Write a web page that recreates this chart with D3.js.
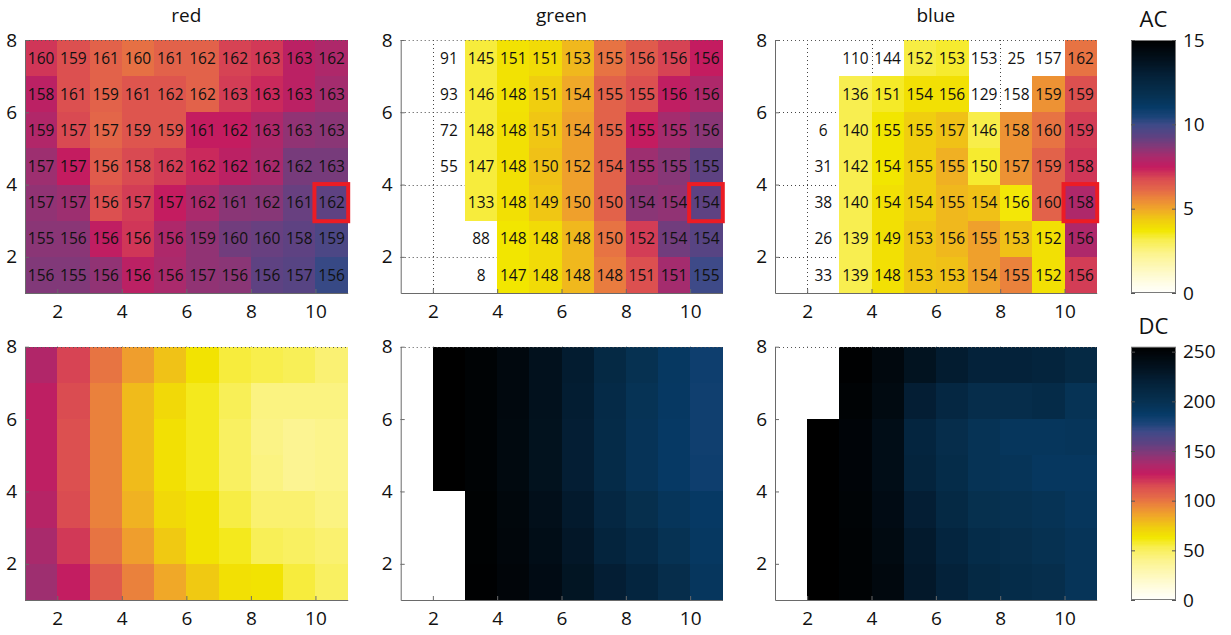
<!DOCTYPE html>
<html>
<head>
<meta charset="utf-8">
<script src="https://cdn.jsdelivr.net/npm/d3@7/dist/d3.min.js"></script>
<style>
  html, body { margin: 0; padding: 0; background: #ffffff; }
  svg { display: block; font-family: "Open Sans", "Noto Sans", sans-serif; }
</style>
</head>
<body>
<svg id="chart" width="1231" height="635"></svg>
<script>
// ---------------- DATA ----------------
const channelNames = ["red", "green", "blue"];
const colLow = [1, 2, 3, 4, 5, 6, 7, 8, 9, 10];        // each column spans [c, c+1]
const rowLow = [7, 6, 5, 4, 3, 2, 1];                   // rows listed top to bottom, span [r, r+1]
const xTicks = [2, 4, 6, 8, 10];
const yTicks = [2, 4, 6, 8];
const acTicks = [0, 5, 10, 15];
const dcTicks = [0, 50, 100, 150, 200, 250];
const acDomain = [0, 15];
const dcDomain = [0, 255];
const highlightCol = 10;
const highlightRow = 3;
const N = null;

// AC values (colour of top row), rows top -> bottom
const acRed = [
  [7.1, 6.7, 6.3, 6.0, 6.3, 6.3, 6.9, 7.05, 7.7, 8.0],
  [7.7, 6.7, 6.3, 6.6, 6.6, 6.3, 7.0, 7.3, 7.7, 8.2],
  [7.95, 6.8, 6.2, 6.6, 6.6, 7.5, 7.5, 8.0, 8.5, 8.6],
  [8.3, 7.5, 6.45, 6.8, 7.0, 7.3, 7.7, 8.1, 8.9, 8.9],
  [8.5, 8.3, 6.7, 7.0, 7.5, 8.1, 8.6, 8.65, 9.15, 9.3],
  [8.6, 8.6, 7.6, 7.1, 8.0, 8.5, 9.0, 9.15, 9.3, 9.7],
  [8.75, 8.75, 8.5, 7.7, 8.1, 8.5, 8.6, 9.3, 9.45, 10.1]
];
const acGreen = [
  [N, N, 3.3, 3.85, 4.0, 4.7, 5.95, 6.45, 6.9, 7.5],
  [N, N, 3.3, 3.85, 4.3, 5.0, 6.3, 6.7, 7.6, 8.0],
  [N, N, 3.3, 3.9, 4.45, 5.15, 6.3, 7.5, 8.2, 8.6],
  [N, N, 3.3, 3.9, 4.55, 5.15, 6.3, 8.3, 8.65, 9.3],
  [N, N, 3.3, 3.9, 4.45, 5.15, 6.3, 8.6, 8.5, 9.3],
  [N, N, N, 3.75, 4.0, 4.7, 5.95, 7.0, 9.0, 9.45],
  [N, N, N, 3.75, 4.0, 4.7, 5.8, 6.7, 8.2, 10.0]
];
const acBlue = [
  [N, N, N, N, 3.25, 3.4, N, N, N, 5.95],
  [N, N, 3.15, 3.45, 3.9, 3.9, N, N, 5.4, 6.7],
  [N, N, 3.15, 3.75, 4.3, 4.55, 3.2, 5.4, 5.95, 7.0],
  [N, N, 3.15, 3.75, 4.3, 4.85, 3.4, 5.4, 6.3, 7.1],
  [N, N, 3.15, 3.9, 4.3, 4.7, 4.55, 3.7, 6.3, 8.0],
  [N, N, 3.15, 3.9, 4.45, 4.7, 5.15, 4.55, 3.9, 8.0],
  [N, N, 3.15, 3.9, 4.45, 4.55, 5.15, 5.7, 3.9, 7.0]
];

// numbers printed in the top-row cells
const labelRed = [
  [160, 159, 161, 160, 161, 162, 162, 163, 163, 162],
  [158, 161, 159, 161, 162, 162, 163, 163, 163, 163],
  [159, 157, 157, 159, 159, 161, 162, 163, 163, 163],
  [157, 157, 156, 158, 162, 162, 162, 162, 162, 163],
  [157, 157, 156, 157, 157, 162, 161, 162, 161, 162],
  [155, 156, 156, 156, 156, 159, 160, 160, 158, 159],
  [156, 155, 156, 156, 156, 157, 156, 156, 157, 156]
];
const labelGreen = [
  [N, 91, 145, 151, 151, 153, 155, 156, 156, 156],
  [N, 93, 146, 148, 151, 154, 155, 155, 156, 156],
  [N, 72, 148, 148, 151, 154, 155, 155, 155, 156],
  [N, 55, 147, 148, 150, 152, 154, 155, 155, 155],
  [N, N, 133, 148, 149, 150, 150, 154, 154, 154],
  [N, N, 88, 148, 148, 148, 150, 152, 154, 154],
  [N, N, 8, 147, 148, 148, 148, 151, 151, 155]
];
const labelBlue = [
  [N, N, 110, 144, 152, 153, 153, 25, 157, 162],
  [N, N, 136, 151, 154, 156, 129, 158, 159, 159],
  [N, 6, 140, 155, 155, 157, 146, 158, 160, 159],
  [N, 31, 142, 154, 155, 155, 150, 157, 159, 158],
  [N, 38, 140, 154, 154, 155, 154, 156, 160, 158],
  [N, 26, 139, 149, 153, 156, 155, 153, 152, 156],
  [N, 33, 139, 148, 153, 153, 154, 155, 152, 156]
];

// DC values (colour of bottom row), rows top -> bottom
const dcRed = [
  [135, 117, 101, 88, 77, 65, 56, 54, 52, 46],
  [130, 115, 97, 79, 69, 60, 52, 43, 43, 43],
  [130, 114, 97, 79, 66, 60, 50, 42, 39, 41],
  [130, 114, 97, 79, 66, 60, 50, 43, 39, 41],
  [133, 115, 97, 82, 69, 65, 55, 47, 47, 43],
  [138, 120, 101, 88, 75, 65, 60, 52, 50, 47],
  [141, 128, 110, 97, 85, 75, 66, 65, 56, 50]
];
const dcGreen = [
  [0, 255, 252, 246, 236, 224, 210, 200, 191, 184],
  [0, 255, 252, 246, 236, 223, 208, 198, 190, 183],
  [0, 255, 252, 245, 235, 222, 207, 197, 189, 183],
  [0, 255, 252, 245, 235, 222, 207, 197, 189, 184],
  [0, 0, 253, 247, 238, 226, 212, 203, 195, 189],
  [0, 0, 253, 248, 240, 229, 216, 208, 199, 191],
  [0, 0, 254, 249, 242, 232, 222, 214, 205, 193]
];
const dcBlue = [
  [0, 0, 254, 246, 234, 224, 218, 218, 216, 210],
  [0, 0, 252, 244, 222, 212, 205, 205, 207, 198],
  [0, 255, 250, 240, 214, 205, 198, 194, 194, 195],
  [0, 255, 250, 240, 216, 206, 198, 196, 192, 192],
  [0, 255, 251, 242, 222, 210, 202, 200, 198, 194],
  [0, 255, 252, 244, 226, 214, 206, 204, 200, 196],
  [0, 255, 252, 246, 228, 218, 210, 206, 204, 196]
];

const acData = [acRed, acGreen, acBlue];
const dcData = [dcRed, dcGreen, dcBlue];
const labelData = [labelRed, labelGreen, labelBlue];

// ---------------- COLOUR MAP ----------------
const cmapT = [0, 0.04, 0.079, 0.158, 0.21, 0.25, 0.29, 0.333, 0.37, 0.41, 0.447, 0.5, 0.54, 0.58, 0.62, 0.667, 0.70, 0.737, 0.79, 0.855, 0.92, 1];
const cmapC = ["#ffffff", "#fffde6", "#fefacc", "#fcf48e", "#f8ee50", "#f2e600", "#f0cc10", "#f0a828", "#ec8a38", "#e46848", "#dc5050", "#c41c60", "#aa2a6c", "#843878", "#5e4282", "#3e4a88", "#1a4478", "#063a66", "#06304f", "#04223a", "#02121f", "#000000"];
const cmap = d3.scaleLinear().domain(cmapT).range(cmapC).interpolate(d3.interpolateRgb).clamp(true);

// ---------------- LAYOUT ----------------
const svg = d3.select("#chart");
const panelX = [[25, 347.7], [400.7, 722.3], [775, 1096.7]];
const panelY = [[40, 293], [346.7, 600]];
const axisColor = "#6a6a6a";
const textColor = "#111111";
const intFmt = d3.format("d");

function drawPanel(pi, ri, values, labels, domain) {
  const [x0, x1] = panelX[pi];
  const [y0, y1] = panelY[ri];
  const x = d3.scaleLinear().domain([1, 11]).range([x0, x1]);
  const y = d3.scaleLinear().domain([1, 8]).range([y1, y0]);
  const norm = d3.scaleLinear().domain(domain).range([0, 1]).clamp(true);
  const g = svg.append("g");

  // dotted grid (behind cells)
  const grid = g.append("g").attr("stroke", "#444").attr("stroke-width", 1).attr("stroke-dasharray", "1,3");
  grid.selectAll("line.v").data(xTicks).join("line").attr("class", "v")
    .attr("x1", d => Math.round(x(d)) + 0.5).attr("x2", d => Math.round(x(d)) + 0.5)
    .attr("y1", y(8)).attr("y2", y(1));
  grid.selectAll("line.h").data(yTicks.filter(d => d < 8)).join("line").attr("class", "h")
    .attr("y1", d => Math.round(y(d)) + 0.5).attr("y2", d => Math.round(y(d)) + 0.5)
    .attr("x1", x(1)).attr("x2", x(11));

  // cells
  const cells = [];
  rowLow.forEach((r, i) => colLow.forEach((c, j) => {
    cells.push({ r, c, v: values[i][j], lab: labels ? labels[i][j] : null });
  }));
  g.append("g").attr("shape-rendering", "crispEdges")
    .selectAll("rect").data(cells.filter(d => d.v !== null)).join("rect")
    .attr("x", d => x(d.c)).attr("y", d => y(d.r + 1))
    .attr("width", d => x(d.c + 1) - x(d.c) + 0.6)
    .attr("height", d => y(d.r) - y(d.r + 1) + 0.6)
    .attr("fill", d => cmap(norm(d.v)));

  // top grid line coincides with the top edge and shows through
  g.append("line").attr("stroke", "#555").attr("stroke-dasharray", "1,3")
    .attr("x1", x(1)).attr("x2", x(11))
    .attr("y1", Math.round(y(8)) + 0.5).attr("y2", Math.round(y(8)) + 0.5);

  // labels
  if (labels) {
    g.append("g").selectAll("text").data(cells.filter(d => d.lab !== null)).join("text")
      .attr("x", d => x(d.c + 0.5)).attr("y", d => y(d.r + 0.5))
      .attr("text-anchor", "middle").attr("dy", "0.36em")
      .attr("font-size", 15.5).attr("fill", textColor)
      .text(d => d.lab);
  }

  // axes
  const ax = g.append("g").attr("transform", `translate(0,${y1})`)
    .call(d3.axisBottom(x).tickValues(xTicks).tickFormat(intFmt).tickSizeInner(-4).tickSizeOuter(0).tickPadding(12));
  const ay = g.append("g").attr("transform", `translate(${x0},0)`)
    .call(d3.axisLeft(y).tickValues(yTicks).tickFormat(intFmt).tickSizeInner(-4).tickSizeOuter(0).tickPadding(8));
  [ax, ay].forEach(a => {
    a.attr("font-family", null).attr("font-size", null);
    a.select(".domain").attr("stroke", axisColor);
    a.selectAll(".tick line").attr("stroke", axisColor);
    a.selectAll(".tick text").attr("font-size", 19).attr("fill", textColor);
  });

  if (ri === 0) {
    svg.append("text").attr("x", (x0 + x1) / 2).attr("y", 22)
      .attr("text-anchor", "middle").attr("font-size", 19).attr("fill", textColor)
      .text(channelNames[pi]);
    // highlight box
    svg.append("rect")
      .attr("x", x(highlightCol) - 1).attr("y", y(highlightRow + 1) - 0.5)
      .attr("width", x(highlightCol + 1) - x(highlightCol) + 1.5)
      .attr("height", y(highlightRow) - y(highlightRow + 1) + 1)
      .attr("fill", "none").attr("stroke", "#ec1c24").attr("stroke-width", 4);
  }
}

channelNames.forEach((name, pi) => {
  drawPanel(pi, 0, acData[pi], labelData[pi], acDomain);
  drawPanel(pi, 1, dcData[pi], null, dcDomain);
});

// ---------------- COLOUR BARS ----------------
function drawColorbar(ri, domain, ticks, title) {
  const [y0, y1] = panelY[ri];
  const cx0 = 1131, cx1 = 1176;
  const y = d3.scaleLinear().domain(domain).range([y1, y0]);
  const g = svg.append("g");
  const steps = d3.range(0, 200);
  const step = (domain[1] - domain[0]) / steps.length;
  g.append("g").attr("shape-rendering", "crispEdges").selectAll("rect").data(steps).join("rect")
    .attr("x", cx0).attr("width", cx1 - cx0)
    .attr("y", d => y(domain[0] + (d + 1) * step))
    .attr("height", d => y(domain[0] + d * step) - y(domain[0] + (d + 1) * step) + 0.6)
    .attr("fill", d => cmap((d + 0.5) / steps.length));
  g.append("rect").attr("x", cx0 + 0.5).attr("y", y0 + 0.5)
    .attr("width", cx1 - cx0 - 1).attr("height", y1 - y0 - 1)
    .attr("fill", "none").attr("stroke", "#7a7a7a");
  const ar = g.append("g").attr("transform", `translate(${cx1},0)`)
    .call(d3.axisRight(y).tickValues(ticks).tickFormat(intFmt).tickSizeInner(-4).tickSizeOuter(0).tickPadding(7));
  const al = g.append("g").attr("transform", `translate(${cx0},0)`)
    .call(d3.axisLeft(y).tickValues(ticks).tickSizeInner(-4).tickSizeOuter(0).tickFormat(""));
  [ar, al].forEach(a => {
    a.attr("font-family", null).attr("font-size", null);
    a.select(".domain").remove();
    a.selectAll(".tick line").attr("stroke", "#555");
    a.selectAll(".tick text").attr("font-size", 19).attr("fill", textColor);
  });
  g.append("text").attr("x", (cx0 + cx1) / 2).attr("y", y0 - 13)
    .attr("text-anchor", "middle").attr("font-size", 22).attr("fill", textColor).text(title);
}
drawColorbar(0, acDomain, acTicks, "AC");
drawColorbar(1, dcDomain, dcTicks, "DC");
</script>
</body>
</html>
